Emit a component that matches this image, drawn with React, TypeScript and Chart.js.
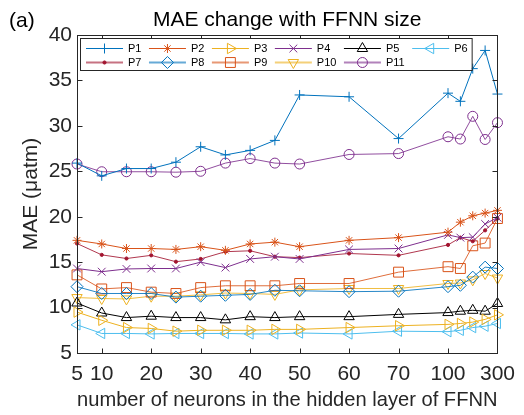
import React, { useEffect, useRef } from 'react';
import { Chart, registerables, LinearScale } from 'chart.js';
import { drawPoint } from 'chart.js/helpers';

Chart.register(...registerables);

// ---------- data ----------
const neurons = [5, 10, 15, 20, 25, 30, 35, 40, 45, 50, 60, 70, 100, 150, 200, 250, 300];
const xTickValues = [5, 10, 20, 30, 40, 50, 60, 70, 100, 300];
const seriesLabels = ['P1', 'P2', 'P3', 'P4', 'P5', 'P6', 'P7', 'P8', 'P9', 'P10', 'P11'];

const p1 = [25.9, 24.5, 25.3, 25.3, 26.0, 27.7, 26.8, 27.3, 28.4, 33.4, 33.2, 28.6, 33.6, 32.7, 36.3, 38.3, 33.5];
const p2 = [17.4, 17.0, 16.5, 16.5, 16.4, 16.7, 16.3, 17.0, 17.2, 16.7, 17.4, 17.7, 18.3, 19.4, 20.1, 20.4, 20.7];
const p3 = [9.5, 8.6, 7.8, 7.7, 7.4, 7.5, 7.5, 7.5, 7.6, 7.6, 7.8, 8.0, 8.15, 8.25, 8.4, 8.7, 9.2];
const p4 = [14.3, 13.95, 14.25, 14.3, 14.3, 15.0, 14.4, 15.35, 15.6, 15.35, 16.4, 16.5, 18.0, 17.7, 17.75, 19.2, 19.9];
const p5 = [10.5, 9.4, 8.9, 9.05, 8.9, 8.9, 8.65, 9.0, 8.9, 9.0, 9.0, 9.25, 9.45, 9.6, 9.7, 9.6, 10.45];
const p6 = [8.1, 7.15, 7.15, 7.1, 7.15, 7.15, 7.15, 7.1, 7.1, 7.2, 7.1, 7.4, 7.35, 7.5, 7.8, 7.95, 8.25];
const p7 = [17.05, 15.8, 15.4, 15.75, 15.05, 15.35, 16.15, 16.25, 15.6, 15.5, 15.95, 15.75, 16.9, 17.7, 17.3, 18.5, 19.8];
const p8 = [12.3, 11.55, 11.55, 11.55, 11.15, 11.25, 11.35, 11.45, 11.9, 11.85, 11.75, 11.8, 12.3, 12.45, 13.35, 14.45, 14.3];
const p9 = [13.6, 12.05, 12.2, 11.7, 11.55, 12.2, 12.4, 12.4, 12.4, 12.65, 12.65, 13.9, 14.5, 14.3, 16.8, 17.1, 19.8];
const p10 = [11.1, 11.0, 10.95, 11.25, 11.25, 11.4, 11.6, 11.55, 11.45, 11.95, 12.1, 12.1, 12.65, 12.7, 13.05, 13.75, 13.25];
const p11 = [25.8, 24.95, 24.95, 24.95, 24.9, 25.0, 25.9, 26.4, 25.9, 25.8, 26.85, 26.95, 28.8, 28.55, 31.05, 28.5, 30.35];

const seriesValues = [p1, p2, p3, p4, p5, p6, p7, p8, p9, p10, p11];

// ---------- styles ----------
const colors = ['#0072BD', '#D95319', '#EDB120', '#7E2F8E', '#000000', '#4DBEEE', '#A2142F', '#0072BD', '#D95319', '#EDB120', '#7E2F8E'];
const pointStyles = ['cross', 'star', 'triangle', 'crossRot', 'triangle', 'triangle', 'circle', 'rectRot', 'rect', 'triangle', 'circle'];
const rotations = [0, 0, 90, 0, 0, -90, 0, 0, 0, 180, 0];
const radii = [5, 4.5, 6, 5.5, 6, 6, 1.6, 6, 7, 6, 5];
const lineAlpha = [1, 1, 1, 1, 1, 1, 0.85, 0.85, 0.85, 0.85, 0.85];
const legendAlpha = [1, 1, 1, 1, 1, 1, 0.6, 0.6, 0.6, 0.6, 0.6];

const FONT = '"Liberation Sans", Arial, Helvetica, sans-serif';
const TEXT = '#262626';

function withAlpha(hex: string, a: number) {
  const r = parseInt(hex.slice(1, 3), 16), g = parseInt(hex.slice(3, 5), 16), b = parseInt(hex.slice(5, 7), 16);
  return `rgba(${r},${g},${b},${a})`;
}

// ---------- segmented x axis (axis breaks as in the original figure) ----------
const xKnots = [5, 70, 100, 300];
const xKnotPos = [0, 65, 75, 85];

function toAxisPos(v: number) {
  for (let i = 0; i < xKnots.length - 1; i++) {
    if (v <= xKnots[i + 1] || i === xKnots.length - 2) {
      const t = (v - xKnots[i]) / (xKnots[i + 1] - xKnots[i]);
      return xKnotPos[i] + t * (xKnotPos[i + 1] - xKnotPos[i]);
    }
  }
  return 0;
}
function fromAxisPos(p: number) {
  for (let i = 0; i < xKnotPos.length - 1; i++) {
    if (p <= xKnotPos[i + 1] || i === xKnotPos.length - 2) {
      const t = (p - xKnotPos[i]) / (xKnotPos[i + 1] - xKnotPos[i]);
      return xKnots[i] + t * (xKnots[i + 1] - xKnots[i]);
    }
  }
  return 0;
}

class SegmentedScale extends LinearScale {
  static id = 'segmented';
  static defaults = { ...(LinearScale as any).defaults };
  getPixelForValue(value: number) {
    if (value === null || value === undefined || isNaN(value)) return NaN;
    const a = toAxisPos((this as any).min), b = toAxisPos((this as any).max);
    return this.getPixelForDecimal((toAxisPos(value) - a) / (b - a));
  }
  getValueForPixel(pixel: number) {
    const a = toAxisPos((this as any).min), b = toAxisPos((this as any).max);
    return fromAxisPos(a + this.getDecimalForPixel(pixel) * (b - a));
  }
}
Chart.register(SegmentedScale as any);

// ---------- plugins ----------
const boxPlugin = {
  id: 'matlabBox',
  afterDatasetsDraw(chart: any) {
    const { ctx, chartArea: ca, scales } = chart;
    const L = Math.round(ca.left) + 0.5, R = Math.round(ca.right) + 0.5;
    const T = Math.round(ca.top) + 0.5, B = Math.round(ca.bottom) + 0.5;
    ctx.save();
    ctx.strokeStyle = TEXT;
    ctx.lineWidth = 1;
    ctx.strokeRect(L, T, R - L, B - T);
    const tl = 5;
    ctx.beginPath();
    scales.x.ticks.forEach((t: any) => {
      const x = Math.round(scales.x.getPixelForValue(t.value)) + 0.5;
      ctx.moveTo(x, B); ctx.lineTo(x, B - tl);
      ctx.moveTo(x, T); ctx.lineTo(x, T + tl);
    });
    scales.y.ticks.forEach((t: any) => {
      const y = Math.round(scales.y.getPixelForValue(t.value)) + 0.5;
      ctx.moveTo(L, y); ctx.lineTo(L + tl, y);
      ctx.moveTo(R, y); ctx.lineTo(R - tl, y);
    });
    ctx.stroke();
    ctx.restore();
  },
};

const textPlugin = {
  id: 'titles',
  afterDraw(chart: any) {
    const { ctx, chartArea: ca } = chart;
    ctx.save();
    ctx.fillStyle = '#000';
    ctx.font = `21px ${FONT}`;
    ctx.textBaseline = 'middle';
    ctx.textAlign = 'center';
    ctx.fillText('MAE change with FFNN size', (ca.left + ca.right) / 2, 20);
    ctx.textAlign = 'left';
    ctx.fillText('(a)', 9, 21);
    ctx.restore();
  },
};

const legendPlugin = {
  id: 'matlabLegend',
  afterDraw(chart: any) {
    const { ctx } = chart;
    const ds = chart.data.datasets;
    const ncol = 6;
    const lineLen = 37, gap = 5, colPad = 7.5;
    const x0 = 86, rowY = [48, 62];
    const boxL = 80, boxT = 38, boxB = 70;
    ctx.save();
    ctx.font = `11px ${FONT}`;
    const colW: number[] = [];
    for (let c = 0; c < ncol; c++) {
      let w = 0;
      for (let i = c; i < ds.length; i += ncol) w = Math.max(w, ctx.measureText(ds[i].label).width);
      colW.push(w);
    }
    const colX: number[] = [];
    let x = x0;
    for (let c = 0; c < ncol; c++) {
      colX.push(x);
      x += lineLen + gap + colW[c] + colPad;
    }
    const boxR = x - colPad + 4;
    ctx.fillStyle = '#fff';
    ctx.fillRect(boxL, boxT, boxR - boxL, boxB - boxT);
    ctx.strokeStyle = TEXT;
    ctx.lineWidth = 1;
    ctx.strokeRect(boxL + 0.5, boxT + 0.5, boxR - boxL, boxB - boxT);
    ds.forEach((d: any, i: number) => {
      const c = i % ncol, r = Math.floor(i / ncol);
      const lx = colX[c], y = rowY[r];
      const col = withAlpha(colors[i], legendAlpha[i]);
      ctx.strokeStyle = col;
      ctx.lineWidth = legendAlpha[i] < 1 ? 2 : 1;
      ctx.beginPath();
      ctx.moveTo(lx, y + 0.5);
      ctx.lineTo(lx + lineLen, y + 0.5);
      ctx.stroke();
      ctx.lineWidth = 1;
      ctx.strokeStyle = colors[i];
      ctx.fillStyle = d.pointBackgroundColor;
      drawPoint(ctx, { pointStyle: d.pointStyle, rotation: d.pointRotation, radius: d.pointRadius, borderWidth: 1 } as any, lx + lineLen / 2, y + 0.5);
      ctx.fillStyle = '#000';
      ctx.textAlign = 'left';
      ctx.textBaseline = 'middle';
      ctx.fillText(d.label, lx + lineLen + gap, y + 1);
    });
    ctx.restore();
  },
};

export default function App() {
  const ref = useRef<HTMLCanvasElement>(null);
  useEffect(() => {
    if (!ref.current) return;
    Chart.defaults.font.family = FONT;
    const datasets = seriesLabels.map((label, i) => ({
      label,
      data: neurons.map((n, k) => ({ x: n, y: seriesValues[i][k] })),
      borderColor: withAlpha(colors[i], lineAlpha[i]),
      borderWidth: 1,
      pointStyle: pointStyles[i],
      pointRotation: rotations[i],
      pointRadius: radii[i],
      pointBorderColor: colors[i],
      pointBackgroundColor: pointStyles[i] === 'circle' && radii[i] < 3 ? colors[i] : 'rgba(0,0,0,0)',
      pointBorderWidth: 1,
      tension: 0,
      clip: false as any,
      fill: false,
    }));
    const chart = new Chart(ref.current, {
      type: 'line',
      data: { datasets },
      plugins: [boxPlugin, legendPlugin, textPlugin],
      options: {
        animation: false,
        responsive: false,
        events: [],
        layout: { autoPadding: false, padding: { left: 0, right: 18, top: 35, bottom: 0 } } as any,
        plugins: { legend: { display: false }, tooltip: { enabled: false }, title: { display: false } },
        scales: {
          x: {
            type: 'segmented' as any,
            min: 5,
            max: 300,
            afterBuildTicks: (s: any) => { s.ticks = xTickValues.map((v) => ({ value: v })); },
            afterFit: (s: any) => { s.height = 62; },
            grid: { display: false, drawTicks: false },
            border: { display: false },
            ticks: { color: TEXT, font: { size: 21 }, padding: 9, maxRotation: 0, autoSkip: false, callback: (v: any) => String(v) },
            title: { display: true, text: 'number of neurons in the hidden layer of FFNN', color: TEXT, font: { size: 21 }, padding: { top: 0, bottom: 2 } },
          },
          y: {
            type: 'linear',
            min: 5,
            max: 40,
            afterFit: (s: any) => { s.width = 77; },
            grid: { display: false, drawTicks: false },
            border: { display: false },
            ticks: { stepSize: 5, color: TEXT, font: { size: 21 }, padding: 5 },
            title: { display: true, text: 'MAE (μatm)', color: TEXT, font: { size: 21 }, padding: { top: 19, bottom: 0 } },
          },
        },
      },
    });
    return () => chart.destroy();
  }, []);
  return (
    <div style={{ position: 'fixed', left: 0, top: 0, width: 524, height: 415, background: '#fff' }}>
      <canvas ref={ref} width={524} height={415} style={{ display: 'block' }} />
    </div>
  );
}
